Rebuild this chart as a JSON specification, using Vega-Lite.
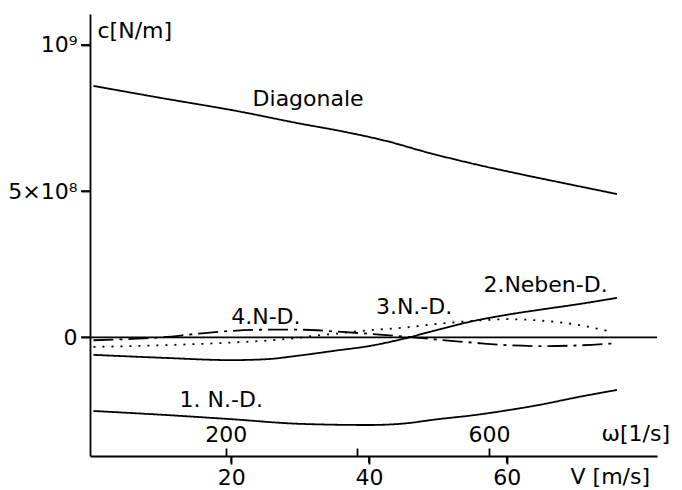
{
  "$schema": "https://vega.github.io/schema/vega-lite/v6.json",
  "width": 567,
  "height": 442,
  "autosize": {"type": "none"},
  "padding": {"left": 90, "top": 14, "right": 25, "bottom": 34},
  "background": "white",
  "config": {
    "view": {"stroke": null},
    "font": "DejaVu Sans",
    "axis": {
      "grid": false,
      "domainColor": "black",
      "domainWidth": 1.8,
      "labelColor": "black",
      "titleColor": "black",
      "labelFontSize": 22,
      "titleFontSize": 22,
      "titleFontWeight": "normal",
      "labelFont": "DejaVu Sans",
      "titleFont": "DejaVu Sans"
    }
  },
  "datasets": {
    "curves": [
      {"series": "Null", "V": -0.5, "c": 0},
      {"series": "Null", "V": 81.8, "c": 0},
      {"series": "Diagonale", "V": 0, "c": 860000000},
      {"series": "Diagonale", "V": 10, "c": 818000000},
      {"series": "Diagonale", "V": 21.3, "c": 772000000},
      {"series": "Diagonale", "V": 30, "c": 731000000},
      {"series": "Diagonale", "V": 35.8, "c": 706000000},
      {"series": "Diagonale", "V": 43.1, "c": 668000000},
      {"series": "Diagonale", "V": 47.9, "c": 636000000},
      {"series": "Diagonale", "V": 57.1, "c": 583000000},
      {"series": "Diagonale", "V": 62, "c": 558000000},
      {"series": "Diagonale", "V": 70, "c": 519000000},
      {"series": "Diagonale", "V": 76, "c": 490000000},
      {"series": "1. N.-D.", "V": 0, "c": -252000000},
      {"series": "1. N.-D.", "V": 10, "c": -265000000},
      {"series": "1. N.-D.", "V": 20, "c": -280000000},
      {"series": "1. N.-D.", "V": 30, "c": -296000000},
      {"series": "1. N.-D.", "V": 40, "c": -300000000},
      {"series": "1. N.-D.", "V": 45, "c": -295000000},
      {"series": "1. N.-D.", "V": 50, "c": -280000000},
      {"series": "1. N.-D.", "V": 55, "c": -267000000},
      {"series": "1. N.-D.", "V": 60, "c": -250000000},
      {"series": "1. N.-D.", "V": 65, "c": -230000000},
      {"series": "1. N.-D.", "V": 70, "c": -206000000},
      {"series": "1. N.-D.", "V": 76, "c": -180000000},
      {"series": "2. Neben-D.", "V": 0, "c": -60000000},
      {"series": "2. Neben-D.", "V": 10, "c": -70000000},
      {"series": "2. Neben-D.", "V": 20, "c": -78000000},
      {"series": "2. Neben-D.", "V": 25, "c": -75000000},
      {"series": "2. Neben-D.", "V": 30, "c": -62000000},
      {"series": "2. Neben-D.", "V": 35, "c": -46000000},
      {"series": "2. Neben-D.", "V": 40, "c": -30000000},
      {"series": "2. Neben-D.", "V": 45, "c": -5000000},
      {"series": "2. Neben-D.", "V": 50, "c": 26000000},
      {"series": "2. Neben-D.", "V": 55, "c": 55000000},
      {"series": "2. Neben-D.", "V": 60, "c": 77000000},
      {"series": "2. Neben-D.", "V": 65, "c": 95000000},
      {"series": "2. Neben-D.", "V": 70, "c": 112000000},
      {"series": "2. Neben-D.", "V": 76, "c": 135000000},
      {"series": "3. N.-D.", "V": 0, "c": -33000000},
      {"series": "3. N.-D.", "V": 10, "c": -27000000},
      {"series": "3. N.-D.", "V": 20, "c": -18000000},
      {"series": "3. N.-D.", "V": 27, "c": -8000000},
      {"series": "3. N.-D.", "V": 34, "c": 10000000},
      {"series": "3. N.-D.", "V": 40, "c": 24000000},
      {"series": "3. N.-D.", "V": 45, "c": 33000000},
      {"series": "3. N.-D.", "V": 50, "c": 46000000},
      {"series": "3. N.-D.", "V": 55, "c": 56000000},
      {"series": "3. N.-D.", "V": 60, "c": 62000000},
      {"series": "3. N.-D.", "V": 65, "c": 57000000},
      {"series": "3. N.-D.", "V": 70, "c": 44000000},
      {"series": "3. N.-D.", "V": 74.6, "c": 22000000},
      {"series": "4. N.-D.", "V": 0, "c": -10000000},
      {"series": "4. N.-D.", "V": 5, "c": -6000000},
      {"series": "4. N.-D.", "V": 10, "c": 0},
      {"series": "4. N.-D.", "V": 15, "c": 12000000},
      {"series": "4. N.-D.", "V": 20, "c": 22000000},
      {"series": "4. N.-D.", "V": 25, "c": 26000000},
      {"series": "4. N.-D.", "V": 30, "c": 26000000},
      {"series": "4. N.-D.", "V": 35, "c": 20000000},
      {"series": "4. N.-D.", "V": 40, "c": 12000000},
      {"series": "4. N.-D.", "V": 45, "c": 3000000},
      {"series": "4. N.-D.", "V": 50, "c": -8000000},
      {"series": "4. N.-D.", "V": 55, "c": -18000000},
      {"series": "4. N.-D.", "V": 60, "c": -27000000},
      {"series": "4. N.-D.", "V": 65, "c": -30000000},
      {"series": "4. N.-D.", "V": 70, "c": -28000000},
      {"series": "4. N.-D.", "V": 76, "c": -20000000}
    ],
    "labels": [
      {"text": "Diagonale", "V": 23.1, "c": 815000000},
      {"text": "4.N-D.", "V": 20.0, "c": 70000000},
      {"text": "3.N.-D.", "V": 41.0, "c": 102000000},
      {"text": "2.Neben-D.", "V": 56.6, "c": 178000000},
      {"text": "1. N.-D.", "V": 12.5, "c": -216000000}
    ],
    "ticks": [
      {"V": -0.5, "V2": -1.8, "c": 0, "c2": 0},
      {"V": -0.5, "V2": -1.8, "c": 500000000, "c2": 500000000},
      {"V": -0.5, "V2": -1.8, "c": 1000000000, "c2": 1000000000},
      {"V": 20, "V2": 20, "c": -406000000, "c2": -430000000},
      {"V": 40, "V2": 40, "c": -406000000, "c2": -430000000},
      {"V": 60, "V2": 60, "c": -406000000, "c2": -430000000}
    ],
    "omega": [{"omega": 200}, {"omega": 600}]
  },
  "layer": [
    {
      "encoding": {
        "x": {
          "field": "V", "type": "quantitative",
          "scale": {"domain": [-0.5, 81.8], "nice": false, "zero": false},
          "axis": {
            "values": [20, 40, 60],
            "tickSize": 8,
            "tickColor": "black",
            "tickWidth": 1.8,
            "labelPadding": 3,
            "labelFlush": false,
            "title": "V [m/s]",
            "titleX": 480,
            "titleY": 20,
            "titleAlign": "left",
            "titleBaseline": "middle"
          }
        },
        "y": {
          "field": "c", "type": "quantitative",
          "scale": {"domain": [-406000000, 1106000000], "nice": false, "zero": false},
          "axis": {
            "values": [0, 500000000, 1000000000],
            "labelExpr": "datum.value == 1000000000 ? '10⁹' : (datum.value == 500000000 ? '5×10⁸' : '0')",
            "tickSize": 9,
            "tickColor": "black",
            "tickWidth": 1.8,
            "labelPadding": 4,
            "title": "c[N/m]",
            "titleAngle": 0,
            "titleX": 7,
            "titleY": 16,
            "titleAlign": "left",
            "titleBaseline": "middle"
          }
        }
      },
      "layer": [
        {
          "data": {"name": "curves"},
          "mark": {"type": "line", "color": "black", "strokeWidth": 1.8, "interpolate": "monotone"},
          "encoding": {
            "detail": {"field": "series", "type": "nominal"},
            "strokeDash": {
              "field": "series", "type": "nominal", "legend": null,
              "scale": {
                "domain": ["Null", "Diagonale", "1. N.-D.", "2. Neben-D.", "3. N.-D.", "4. N.-D."],
                "range": [[1, 0], [1, 0], [1, 0], [1, 0], [2, 7], [20, 6, 3, 6]]
              }
            }
          }
        },
        {
          "data": {"name": "ticks"},
          "mark": {"type": "rule", "color": "black", "strokeWidth": 1.8, "clip": false},
          "encoding": {
            "x2": {"field": "V2"},
            "y2": {"field": "c2"}
          }
        },
        {
          "data": {"name": "labels"},
          "mark": {"type": "text", "align": "left", "baseline": "middle", "fontSize": 22, "color": "black", "font": "DejaVu Sans"},
          "encoding": {
            "text": {"field": "text"}
          }
        }
      ]
    },
    {
      "data": {"name": "omega"},
      "mark": {"type": "point", "opacity": 0},
      "encoding": {
        "x": {
          "field": "omega", "type": "quantitative",
          "scale": {"domain": [-6, 855], "nice": false, "zero": false},
          "axis": {
            "orient": "top",
            "offset": -442,
            "domain": false,
            "values": [200, 400, 600],
            "labelExpr": "datum.value == 400 ? '' : datum.label",
            "tickSize": 8,
            "tickColor": "black",
            "tickWidth": 1.8,
            "labelPadding": 2,
            "labelFlush": false,
            "title": "ω[1/s]",
            "titleX": 511,
            "titleY": -23,
            "titleAlign": "left",
            "titleBaseline": "middle"
          }
        }
      }
    }
  ],
  "resolve": {"scale": {"x": "independent"}, "axis": {"x": "independent"}}
}
